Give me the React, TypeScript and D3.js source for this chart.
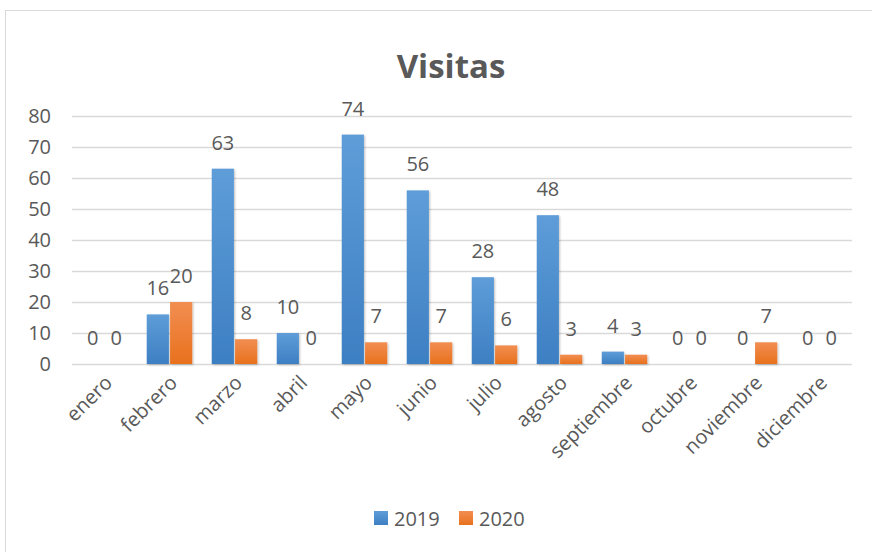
import * as d3 from "d3";
import { useEffect, useRef } from "react";

const months = ["enero", "febrero", "marzo", "abril", "mayo", "junio", "julio", "agosto", "septiembre", "octubre", "noviembre", "diciembre"];
const series = ["2019", "2020"];
const visits2019 = [0, 16, 63, 10, 74, 56, 28, 48, 4, 0, 0, 0];
const visits2020 = [0, 20, 8, 0, 7, 7, 6, 3, 3, 0, 7, 0];
const yTicks = [0, 10, 20, 30, 40, 50, 60, 70, 80];

const W = 872;
const H = 552;
const plot = { left: 72, right: 852, top: 116, bottom: 364 };
const textColor = "#595959";
const font = "'Open Sans', sans-serif";
const fs = 20;

function AxisBottom({ scale, y }) {
  const ref = useRef(null);
  useEffect(() => {
    if (ref.current) {
      const g = d3.select(ref.current);
      g.call(d3.axisBottom(scale).tickSize(0).tickPadding(0));
      g.select(".domain").remove();
      g.selectAll("text")
        .attr("fill", textColor)
        .attr("font-family", font)
        .attr("font-size", fs)
        .attr("text-anchor", "end")
        .attr("dy", "0.35em")
        .attr("transform", "translate(4, 15) rotate(-45)")
        .attr("y", 0)
        .attr("x", 0);
    }
  }, [scale]);
  return <g ref={ref} transform={`translate(0, ${y})`} />;
}

function AxisLeft({ scale, x }) {
  const ref = useRef(null);
  useEffect(() => {
    if (ref.current) {
      const g = d3.select(ref.current);
      g.call(d3.axisLeft(scale).tickValues(yTicks).tickSize(0).tickPadding(0));
      g.select(".domain").remove();
      g.selectAll("text")
        .attr("fill", textColor)
        .attr("font-family", font)
        .attr("font-size", fs);
    }
  }, [scale]);
  return <g ref={ref} transform={`translate(${x}, 0)`} />;
}

const App = () => {
  const x0 = d3.scaleBand().domain(months).range([plot.left, plot.right]).paddingInner(0.3).paddingOuter(0.15);
  const x1 = d3.scaleBand().domain(series).range([0, x0.bandwidth()]).paddingInner(0.05);
  const y = d3.scaleLinear().domain([0, 80]).range([plot.bottom, plot.top]);
  const values = { "2019": visits2019, "2020": visits2020 };

  return (
    <svg width={W} height={H} style={{ position: "absolute", left: 0, top: 0, background: "#fff" }}>
      <defs>
        <linearGradient id="g2019" x1="0" y1="0" x2="0" y2="1">
          <stop offset="0%" stopColor="#5e9dd8" />
          <stop offset="100%" stopColor="#3d7fc3" />
        </linearGradient>
        <linearGradient id="g2020" x1="0" y1="0" x2="0" y2="1">
          <stop offset="0%" stopColor="#f28e52" />
          <stop offset="100%" stopColor="#e8711d" />
        </linearGradient>
        <filter id="shadow" x="-20%" y="-20%" width="140%" height="140%">
          <feDropShadow dx="1" dy="1" stdDeviation="1" floodColor="#000" floodOpacity="0.25" />
        </filter>
      </defs>
      <rect x={5.5} y={10.5} width={900} height={560} fill="#fff" stroke="#d9d9d9" strokeWidth={1} />
      <text x={451} y={78} textAnchor="middle" fill={textColor} fontFamily={font} fontWeight="bold" fontSize={33}>
        Visitas
      </text>
      {yTicks.map((t) => (
        <line key={t} x1={plot.left} x2={plot.right} y1={Math.round(y(t)) + 0.5} y2={Math.round(y(t)) + 0.5} stroke="#d9d9d9" strokeWidth={1.5} />
      ))}
      <AxisLeft scale={y} x={51} />
      <AxisBottom scale={x0} y={plot.bottom} />
      {months.map((m, i) => (
        <g key={m} transform={`translate(${x0(m)}, 0)`}>
          {series.map((s) => {
            const v = values[s][i];
            const bx = x1(s);
            return (
              <g key={s}>
                {v > 0 && (
                  <rect x={bx} y={y(v)} width={x1.bandwidth()} height={y(0) - y(v)} fill={`url(#g${s})`} filter="url(#shadow)" />
                )}
                <text x={bx + x1.bandwidth() / 2} y={y(v) - 19} textAnchor="middle" fill={textColor} fontFamily={font} fontSize={fs}>
                  {v}
                </text>
              </g>
            );
          })}
        </g>
      ))}
      <g transform="translate(374, 511)">
        <rect x={0} y={0} width={14} height={14} fill="url(#g2019)" />
        <text x={20} y={14.5} fill={textColor} fontFamily={font} fontSize={fs}>2019</text>
        <rect x={85} y={0} width={14} height={14} fill="url(#g2020)" />
        <text x={105} y={14.5} fill={textColor} fontFamily={font} fontSize={fs}>2020</text>
      </g>
    </svg>
  );
};

export default App;
